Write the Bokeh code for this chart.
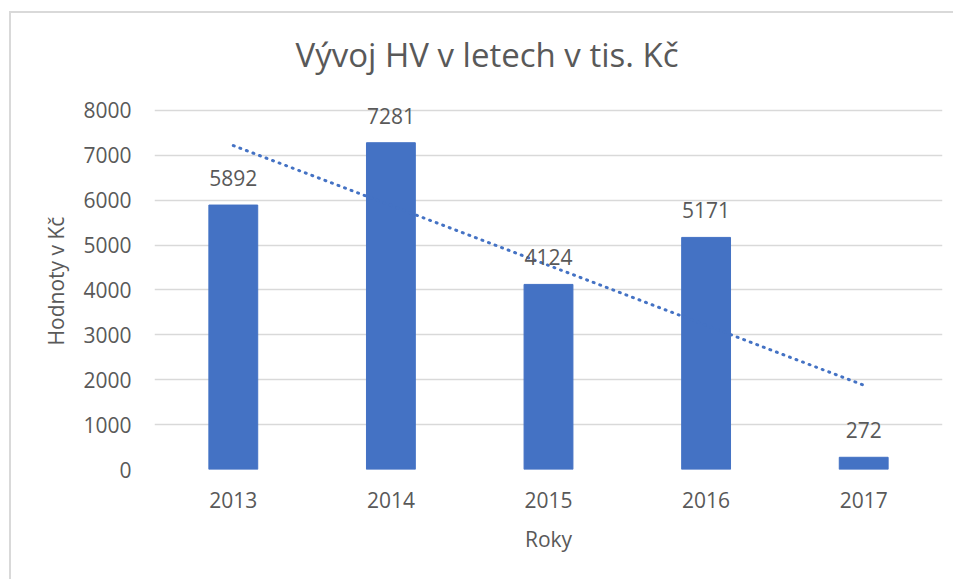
import numpy as np
from bokeh.plotting import figure
from bokeh.models import ColumnDataSource, Title, FixedTicker, Range1d
from bokeh.core.properties import value
from bokeh.embed import file_html
from bokeh.resources import INLINE

years = ["2013", "2014", "2015", "2016", "2017"]
values = [5892, 7281, 4124, 5171, 272]
y_ticks = [0, 1000, 2000, 3000, 4000, 5000, 6000, 7000, 8000]

title_text = "Vývoj HV v letech  v tis. Kč"
y_label = "Hodnoty v Kč"
x_label = "Roky"

FONT = "Open Sans"
TXT = "#595959"
BAR = "#4472C4"
GRID = "#d9d9d9"

# linear trend (Excel-style) computed from the data
idx = np.arange(1, len(values) + 1)
slope, intercept = np.polyfit(idx, values, 1)
trend = list(slope * idx + intercept)

src = ColumnDataSource(dict(x=years, y=values, lab=[str(v) for v in values]))
tsrc = ColumnDataSource(dict(x=years, y=trend))

# y range extends a little above the top tick so the top data label is not clipped
p = figure(x_range=years, y_range=Range1d(0, 8400), width=944, height=568,
           output_backend="svg", toolbar_location=None,
           min_border_left=143, min_border_right=13, min_border_top=79, min_border_bottom=112)
p.title = None
p.add_layout(Title(text=title_text, align="left", offset=141, text_font=FONT,
                   text_font_size="33px", text_color=TXT, text_font_style="normal",
                   standoff=32), "above")

p.vbar(x="x", top="y", width=0.31, source=src, color=BAR)
p.line(x="x", y="y", source=tsrc, line_color=BAR, line_width=3, line_dash="1 6", line_cap="round")
p.text(x="x", y="y", text="lab", source=src, text_font=value(FONT), text_font_size="21px",
       text_color=TXT, text_align="center", text_baseline="alphabetic", y_offset=-27)

p.outline_line_color = None
p.xgrid.grid_line_color = None
p.ygrid.grid_line_color = GRID
p.ygrid.grid_line_width = 1.5
p.yaxis.ticker = FixedTicker(ticks=y_ticks)

for ax in (p.xaxis[0], p.yaxis[0]):
    ax.axis_line_color = None
    ax.major_tick_line_color = None
    ax.minor_tick_line_color = None
    ax.major_label_text_font = FONT
    ax.major_label_text_font_size = "21px"
    ax.major_label_text_color = TXT
    ax.axis_label_text_font = FONT
    ax.axis_label_text_font_size = "21px"
    ax.axis_label_text_color = TXT
    ax.axis_label_text_font_style = "normal"

p.yaxis.axis_label = y_label
p.xaxis.axis_label = x_label
p.yaxis.major_label_standoff = 17
p.yaxis.axis_label_standoff = 10
p.xaxis.major_label_standoff = 16
p.xaxis.axis_label_standoff = 14

p.styles = {"border-left": "2px solid #d9d9d9", "border-top": "2px solid #d9d9d9",
            "margin-left": "9px", "margin-top": "11px"}

open("out.html", "w").write(file_html(p, INLINE))
